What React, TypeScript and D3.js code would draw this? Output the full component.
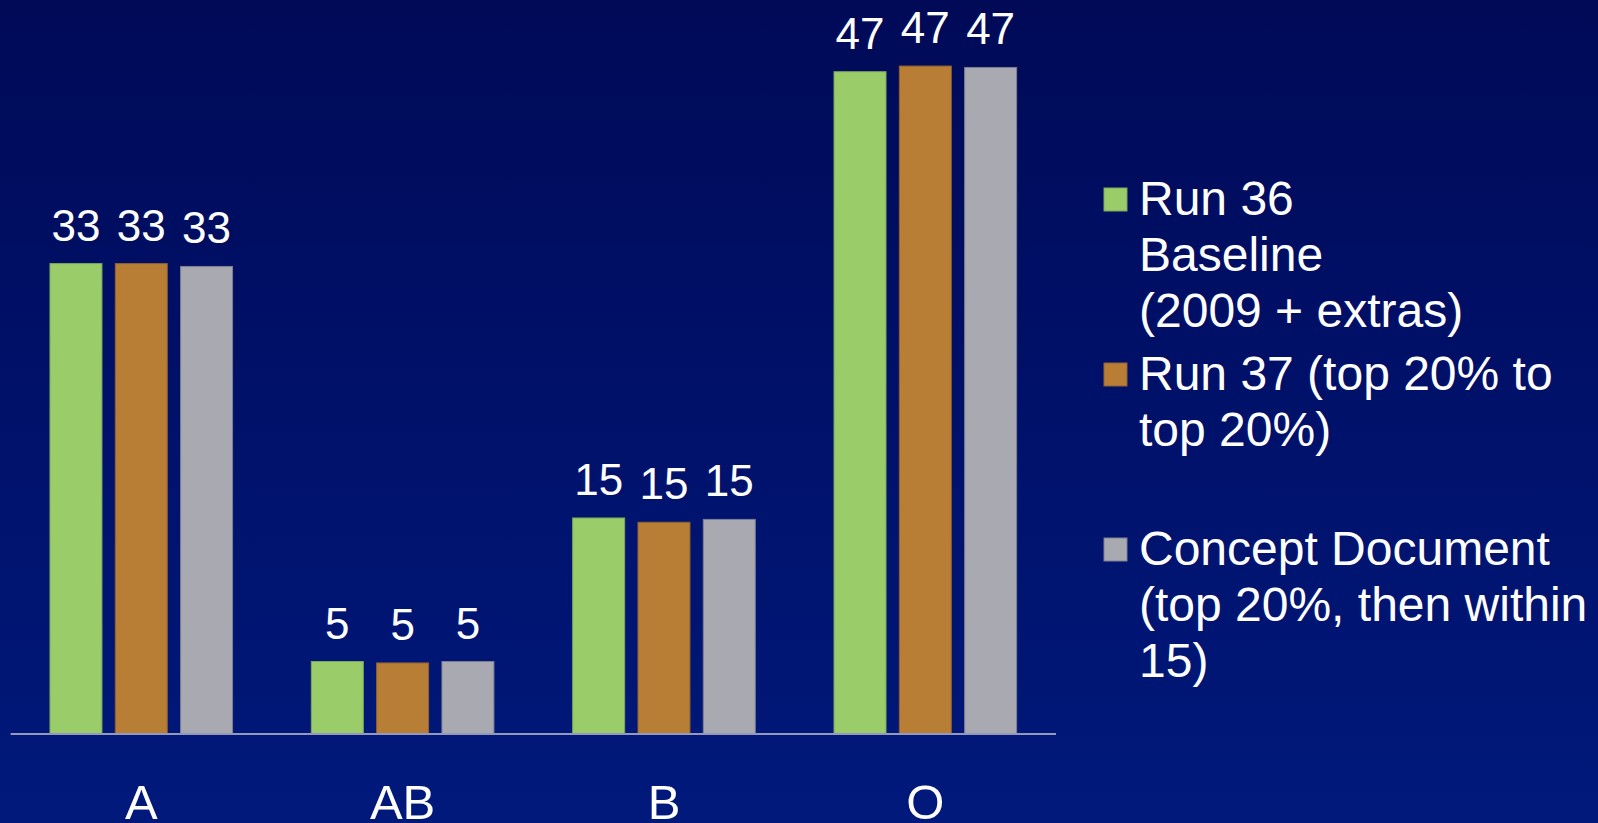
import React from "react";
import * as d3 from "d3";

// Blood-type shares (%) for each run
const categories = ["A", "AB", "B", "O"];
const seriesNames = [
  "Run 36 Baseline (2009 + extras)",
  "Run 37 (top 20% to top 20%)",
  "Concept Document (top 20%, then within 15)",
];
const run36Values = [33.1, 5.1, 15.2, 46.6];
const run37Values = [33.1, 5.0, 14.9, 47.0];
const conceptValues = [32.9, 5.1, 15.1, 46.9];

// Legend entries, broken into display lines
const legendLines = [
  ["Run 36", "Baseline", "(2009 + extras)"],
  ["Run 37 (top 20% to", "top 20%)"],
  ["Concept Document", "(top 20%, then within", "15)"],
];

const seriesValues = [run36Values, run37Values, conceptValues];
const fills = ["#9BCC6A", "#B97E36", "#A9A9B1"];
const strokes = ["#7FA858", "#8F6230", "#7E7F92"];

const W = 1598;
const H = 823;
const FONT = "'Liberation Sans', Arial, Helvetica, sans-serif";

export default function App() {
  const x0 = d3.scaleBand().domain(categories).range([10.6, 1056]).padding(0);
  const x1 = d3
    .scaleBand()
    .domain(seriesNames)
    .range([-91.3, 91.3])
    .paddingInner(0.204)
    .paddingOuter(0);
  const y = d3.scaleLinear().domain([0, 50]).range([734, 23.4]);
  const fmt = d3.format(".0f");

  return (
    <div style={{ position: "fixed", left: 0, top: 0, width: W, height: H }}>
      <svg width={W} height={H} style={{ display: "block" }} fontFamily={FONT}>
        <defs>
          <linearGradient id="bg" x1="0" y1="0" x2="0" y2="1">
            <stop offset="0" stopColor="#000A57" />
            <stop offset="0.5" stopColor="#00116A" />
            <stop offset="1" stopColor="#00197B" />
          </linearGradient>
        </defs>
        <rect x={0} y={0} width={W} height={H} fill="url(#bg)" />

        {categories.map((cat, ci) => {
          const cx = (x0(cat) ?? 0) + x0.bandwidth() / 2;
          return (
            <g key={cat}>
              {seriesNames.map((s, si) => {
                const v = seriesValues[si][ci];
                const bx = cx + (x1(s) ?? 0);
                const top = y(v);
                return (
                  <g key={s}>
                    <rect
                      x={bx}
                      y={top}
                      width={x1.bandwidth()}
                      height={y(0) - top}
                      fill={fills[si]}
                      stroke={strokes[si]}
                      strokeWidth={1}
                    />
                    <text
                      x={bx + x1.bandwidth() / 2}
                      y={top - 23}
                      textAnchor="middle"
                      fill="#FFFFFF"
                      fontSize={44}
                    >
                      {fmt(v)}
                    </text>
                  </g>
                );
              })}
              <text
                x={cx}
                y={819}
                textAnchor="middle"
                fill="#FFFFFF"
                fontSize={49}
              >
                {cat}
              </text>
            </g>
          );
        })}

        <line
          x1={x0.range()[0]}
          x2={x0.range()[1]}
          y1={y(0)}
          y2={y(0)}
          stroke="#9499BC"
          strokeWidth={2}
        />

        {legendLines.map((lines, i) => {
          const base = 215 + i * 175;
          return (
            <g key={i}>
              <rect
                x={1104}
                y={base - 27}
                width={23}
                height={23}
                fill={fills[i]}
                stroke={strokes[i]}
                strokeWidth={1}
              />
              {lines.map((ln, li) => (
                <text
                  key={li}
                  x={1139}
                  y={base + li * 56}
                  fill="#FFFFFF"
                  fontSize={48}
                >
                  {ln}
                </text>
              ))}
            </g>
          );
        })}
      </svg>
    </div>
  );
}
